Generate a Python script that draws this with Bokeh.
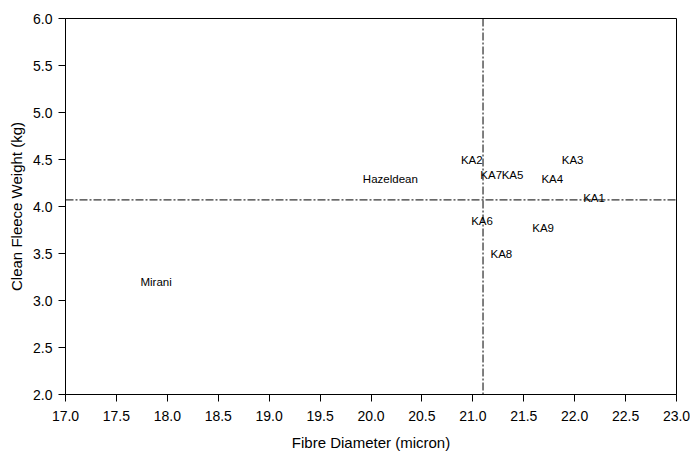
from bokeh.plotting import figure
from bokeh.models import ColumnDataSource, Span, FixedTicker
from bokeh.core.properties import value
from bokeh.embed import file_html
from bokeh.resources import INLINE

names = ["KA1", "KA2", "KA3", "KA4", "KA5", "KA6", "KA7", "KA8", "KA9", "Hazeldean", "Mirani"]
fibre_diameter = [22.19, 20.99, 21.98, 21.78, 21.39, 21.09, 21.18, 21.28, 21.69, 20.19, 17.89]
fleece_weight = [4.09, 4.49, 4.49, 4.29, 4.34, 3.85, 4.34, 3.49, 3.77, 4.29, 3.20]
mean_diameter = 21.10
mean_weight = 4.07
x_ticks = [17.0, 17.5, 18.0, 18.5, 19.0, 19.5, 20.0, 20.5, 21.0, 21.5, 22.0, 22.5, 23.0]
y_ticks = [2.0, 2.5, 3.0, 3.5, 4.0, 4.5, 5.0, 5.5, 6.0]

src = ColumnDataSource(dict(x=fibre_diameter, y=fleece_weight, t=names))

p = figure(width=690, height=456, x_range=(17, 23), y_range=(2, 6),
           output_backend="svg", toolbar_location=None,
           min_border_left=65, min_border_right=14, min_border_top=18, min_border_bottom=62)
p.grid.visible = False
p.outline_line_color = "black"
p.outline_line_width = 1
p.background_fill_color = "white"

p.text(x="x", y="y", text="t", source=src, text_align="center", text_baseline="middle",
       text_font=value("Liberation Sans"), text_font_size="11.5px", text_color="black")

p.add_layout(Span(location=mean_diameter, dimension="height", line_color="black",
                  line_width=1, line_dash="8 2 2 2"))
p.add_layout(Span(location=mean_weight, dimension="width", line_color="black",
                  line_width=1, line_dash="8 2 2 2"))

for ax in (p.xaxis[0], p.yaxis[0]):
    ax.major_label_text_font = "Liberation Sans"
    ax.major_label_text_font_size = "14px"
    ax.major_label_text_color = "black"
    ax.axis_label_text_font = "Liberation Sans"
    ax.axis_label_text_font_size = "15px"
    ax.axis_label_text_font_style = "normal"
    ax.axis_label_text_color = "black"
    ax.axis_line_color = "black"
    ax.major_tick_line_color = "black"
    ax.major_tick_out = 7
    ax.major_tick_in = 0
    ax.minor_tick_line_color = None

p.xaxis.ticker = FixedTicker(ticks=x_ticks)
p.yaxis.ticker = FixedTicker(ticks=y_ticks)
p.xaxis.major_label_overrides = {t: f"{t:.1f}" for t in x_ticks}
p.yaxis.major_label_overrides = {t: f"{t:.1f}" for t in y_ticks}
p.xaxis.axis_label = "Fibre Diameter (micron)"
p.yaxis.axis_label = "Clean Fleece Weight (kg)"
p.xaxis.major_label_standoff = 9
p.xaxis.axis_label_standoff = 10
p.yaxis.major_label_standoff = 6
p.yaxis.axis_label_standoff = 5

open("out.html", "w").write(file_html(p, INLINE))
